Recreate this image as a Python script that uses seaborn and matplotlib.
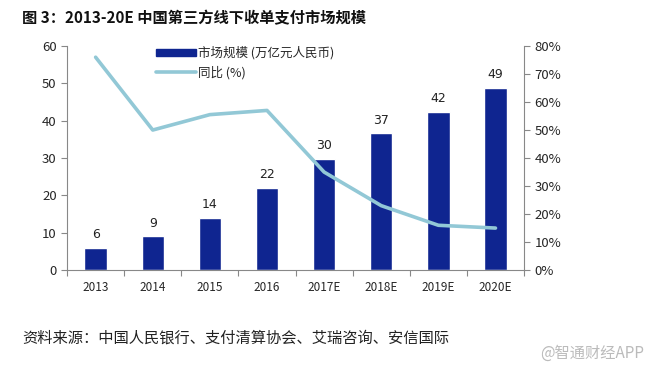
import numpy as np
import pandas as pd
import seaborn as sns
import matplotlib.pyplot as plt
from matplotlib.patches import Patch
from matplotlib.lines import Line2D

years = ["2013", "2014", "2015", "2016", "2017E", "2018E", "2019E", "2020E"]
scale = [6.0, 9.0, 14.0, 22.0, 29.7, 36.6, 42.3, 48.8]
growth = [76.0, 50.0, 55.5, 57.0, 35.0, 23.0, 16.0, 15.0]

sns.set_style('white')
plt.rcParams['font.family'] = ['Noto Sans CJK SC', 'DejaVu Sans']

bar_c = "#0f2590"
line_c = "#92c8d6"
grey = "#888888"

df = pd.DataFrame({"year": years, "scale": scale, "growth": growth,
                   "pos": np.arange(len(years))})

fig = plt.figure(figsize=(6.51, 3.71), dpi=100)
ax = fig.add_axes([0.103, 0.272, 0.702, 0.604])
sns.barplot(data=df, x="year", y="scale", color=bar_c, width=0.39,
            saturation=1, ax=ax)
ax.set_xlim(-0.5, 7.5)
ax.set_ylim(0, 60)
ax.set_yticks(range(0, 61, 10))
ax.set_xlabel("")
ax.set_ylabel("")
for i, v in enumerate(scale):
    ax.text(i, v + 1.8, f"{v:.0f}", ha="center", va="bottom", fontsize=9,
            family=['DejaVu Sans'], color="#222222")

ax2 = ax.twinx()
sns.lineplot(data=df, x="pos", y="growth", color=line_c, linewidth=2.6, ax=ax2)
ax2.set_ylim(0, 80)
ax2.set_yticks(range(0, 81, 10))
ax2.set_yticklabels([f"{t}%" for t in range(0, 81, 10)])
ax2.set_ylabel("")
ax2.set_xlabel("")
ax2.set_xlim(-0.5, 7.5)

# x ticks at category boundaries
ax.set_xticks(np.arange(-0.5, 8, 1), minor=False)
ax.set_xticklabels([])
ax.set_xticks(np.arange(8), minor=True)
ax.set_xticklabels(years, minor=True)
ax.tick_params(axis="x", which="major", length=4, direction="out", color=grey, bottom=True)
ax.tick_params(axis="x", which="minor", length=0, labelsize=8.5, pad=8)
ax.tick_params(axis="y", length=4, direction="out", color=grey, left=True, labelsize=9.5)
ax2.tick_params(axis="y", length=4, direction="out", color=grey, right=True, labelsize=9.5)
for a in (ax, ax2):
    a.spines["top"].set_visible(False)
    for s in ("left", "right", "bottom"):
        a.spines[s].set_color(grey)
        a.spines[s].set_linewidth(0.8)
ax.spines["right"].set_visible(False)
ax2.spines["left"].set_visible(False)
ax2.spines["bottom"].set_visible(False)

handles = [Patch(facecolor=bar_c, edgecolor=bar_c),
           Line2D([0], [0], color=line_c, linewidth=2.6)]
ax2.legend(handles, ["市场规模 (万亿元人民币)", "同比 (%)"], loc="upper left",
           bbox_to_anchor=(0.17, 1.05), frameon=False, fontsize=9,
           handlelength=3.2, handleheight=0.5, labelspacing=0.5,
           handletextpad=0.2)

fig.text(0.034, 0.952, "图 3：2013-20E 中国第三方线下收单支付市场规模",
         fontsize=11, fontweight="bold", va="center", ha="left", color="#111111")
fig.text(0.034, 0.09, "资料来源：中国人民银行、支付清算协会、艾瑞咨询、安信国际",
         fontsize=11, va="center", ha="left", color="#222222")
fig.text(0.99, 0.048, "@智通财经APP", fontsize=11, va="center", ha="right",
         color="#bbbbbb")

fig.savefig("out.png", dpi=100)
